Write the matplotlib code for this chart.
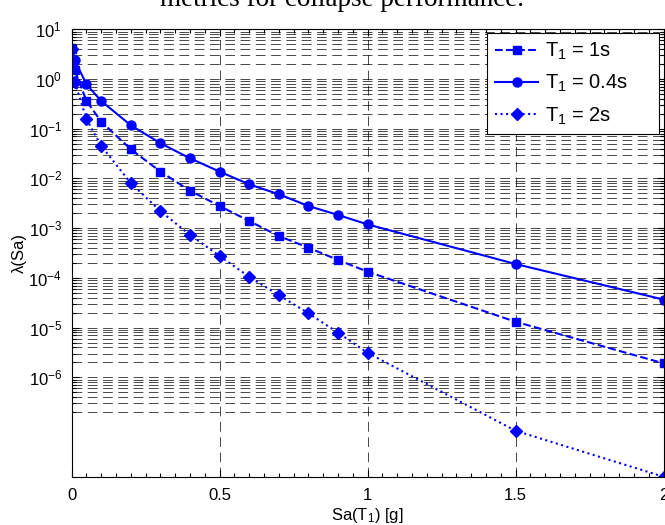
import matplotlib
matplotlib.use('Agg')
import matplotlib.pyplot as plt
import matplotlib.ticker as mticker
import numpy as np

# hazard curves
sa = [0, 0.01, 0.05, 0.1, 0.2, 0.3, 0.4, 0.5, 0.6, 0.7, 0.8, 0.9, 1.0, 1.5, 2.0]
lam_t1 = [4.0, 1.52, 0.36, 0.138, 0.0385, 0.0137, 0.00566, 0.00279, 0.00139,
          6.95e-4, 4.05e-4, 2.29e-4, 1.33e-4, 1.31e-5, 1.91e-6]
lam_t04 = [4.0, 2.41, 0.78, 0.36, 0.117, 0.051, 0.0254, 0.0137, 0.0076,
           0.0048, 0.00279, 0.00184, 0.00119, 1.9e-4, 3.66e-5]
lam_t2 = [4.0, 0.88, 0.155, 0.045, 0.008, 0.0022, 7.3e-4, 2.75e-4, 1.05e-4,
          4.5e-5, 1.94e-5, 7.9e-6, 3.1e-6, 8.4e-8, 1.0e-8]

labels = ['T$_\\mathregular{1}$ = 1s', 'T$_\\mathregular{1}$ = 0.4s', 'T$_\\mathregular{1}$ = 2s']
xticks = [0, 0.5, 1, 1.5, 2]
yticks = [10.0 ** k for k in range(-6, 2)]

plt.rcParams['font.family'] = ['Liberation Sans', 'DejaVu Sans']
plt.rcParams['mathtext.default'] = 'regular'

fig = plt.figure(figsize=(6.65, 5.25), dpi=100)
ax = fig.add_axes([71.7 / 665, 1 - 476.7 / 525, (663.5 - 71.7) / 665, (476.7 - 29.3) / 525])

blue = '#0000ff'
# trailing spaces widen the legend box on the right like the original
pad = '     '
ax.plot(sa, lam_t1, '--', color=blue, lw=1.5, marker='s', ms=6, label=labels[0] + pad)
ax.plot(sa, lam_t04, '-', color=blue, lw=1.5, marker='o', ms=6.5, label=labels[1] + pad)
ax.plot(sa, lam_t2, ':', color=blue, lw=1.5, marker='D', ms=5.7, label=labels[2] + pad)

ax.set_yscale('log')
ax.set_xlim(0, 2)
ax.set_ylim(1e-8, 10)
ax.set_xticks(xticks)
ax.set_xticklabels(['0', '0.5', '1', '1.5', '2'])
ax.xaxis.set_minor_locator(mticker.MultipleLocator(0.05))
ax.set_yticks(yticks)
ax.yaxis.set_major_formatter(mticker.LogFormatterSciNotation())
minor = [m * 10.0 ** k for k in range(-7, 1) for m in range(2, 10)]
ax.set_yticks(minor, minor=True)
ax.yaxis.set_minor_formatter(mticker.NullFormatter())

ax.tick_params(which='both', direction='in', top=True, right=True, labelsize=12, width=0.8)
ax.tick_params(which='major', length=5)
ax.tick_params(which='minor', length=3)
ax.tick_params(axis='x', pad=8)
ax.tick_params(axis='y', pad=7)

grid_ls = (0, (14, 8))
ax.xaxis.grid(True, which='major', color='k', lw=0.5, linestyle=grid_ls)
ax.yaxis.grid(True, which='both', color='k', lw=0.5, linestyle=grid_ls)
for s in ax.spines.values():
    s.set_linewidth(0.8)

ax.set_xlabel('Sa(T$_\\mathregular{1}$) [g]', fontsize=12, labelpad=2)
ax.set_ylabel('\u03bb(Sa)', fontsize=12, labelpad=1)

leg = ax.legend(loc='upper right', bbox_to_anchor=(659 / 665, 1 - 33.3 / 525),
                bbox_transform=fig.transFigure, borderaxespad=0, fancybox=False,
                framealpha=1, edgecolor='k', fontsize=14.5, handlelength=2.14,
                handletextpad=0.35, labelspacing=0.54, borderpad=0.38)
leg.get_frame().set_linewidth(0.8)

fig.text(342 / 665, 1 - 5.5 / 525, 'metrics for collapse performance.', ha='center',
         va='baseline', fontsize=19.5, family='Liberation Serif')

fig.savefig('out.png', dpi=100)
